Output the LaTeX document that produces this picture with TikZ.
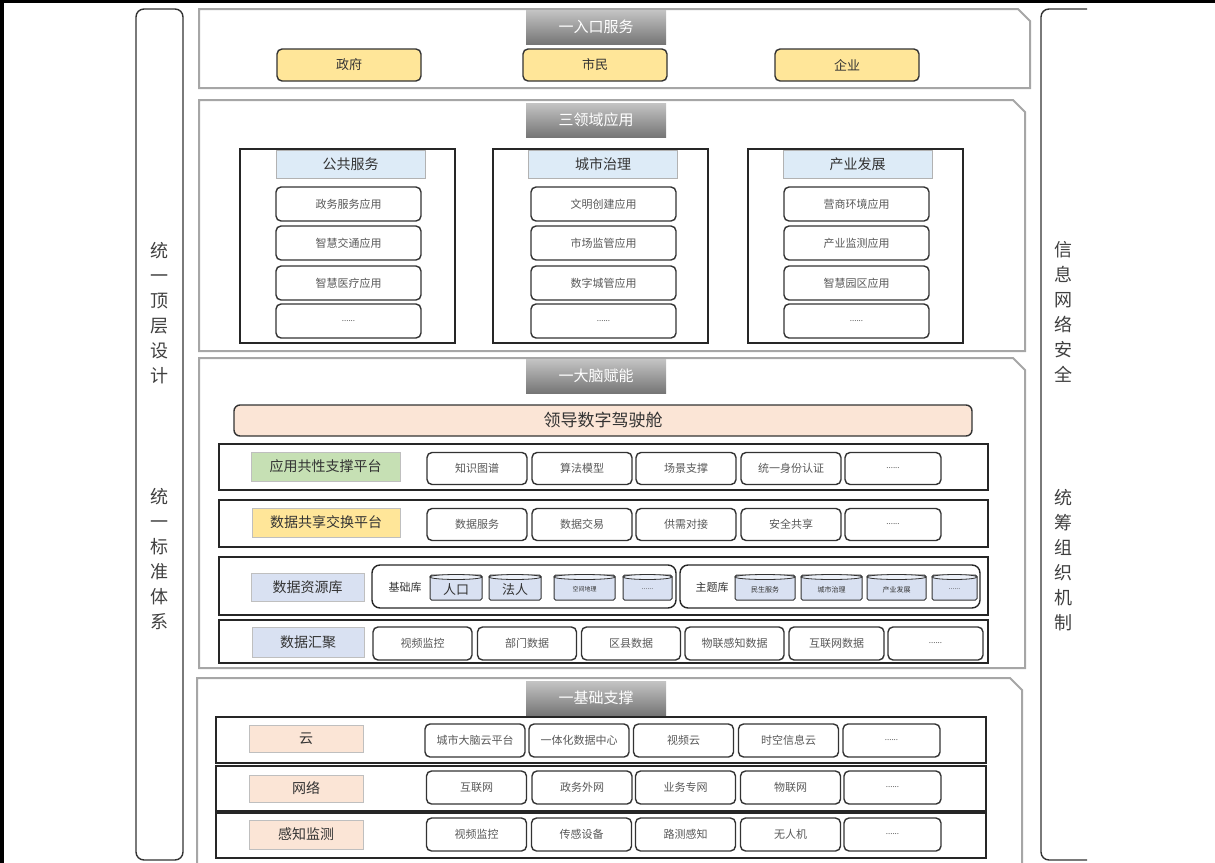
\documentclass[tikz,border=0pt]{standalone}
\usepackage{fontspec}
\setmainfont{Noto Sans CJK SC}

\definecolor{framegray}{HTML}{A6A6A6}
\definecolor{tabtop}{HTML}{C4C4C4}
\definecolor{tabbot}{HTML}{767676}
\definecolor{entryyellow}{HTML}{FFE699}
\definecolor{headblue}{HTML}{DDEBF7}
\definecolor{datablue}{HTML}{D9E1F2}
\definecolor{peach}{HTML}{FBE5D6}
\definecolor{platgreen}{HTML}{C6E0B4}
\definecolor{txtgray}{HTML}{595959}

\tikzset{
  layer/.style={draw=framegray, line width=2pt},
  tabbox/.style={top color=tabtop, bottom color=tabbot, text=white, minimum width=140pt, minimum height=34pt, inner sep=0pt, font=\fontsize{15}{15}\selectfont},
  sidebar/.style={draw=black!80, line width=1.4pt, rounded corners=8pt},
  sidetext/.style={align=center, text=black!75, font=\fontsize{18}{25}\selectfont},
  entry/.style={draw=black!80, fill=entryyellow, line width=1.4pt, rounded corners=5pt, minimum width=144pt, minimum height=32pt, inner sep=0pt, font=\fontsize{13}{13}\selectfont, text=black!80},
  fieldbox/.style={draw=black!85, line width=1.4pt, inner sep=0pt},
  headbox/.style={draw=gray!60, fill=headblue, minimum width=149pt, minimum height=28pt, inner sep=0pt, font=\fontsize{14}{14}\selectfont, text=black!80},
  app/.style={draw=black!80, line width=1.4pt, rounded corners=5pt, fill=white, minimum width=145pt, minimum height=34pt, inner sep=0pt, font=\fontsize{11}{11}\selectfont, text=txtgray},
  rowbox/.style={draw=black!85, line width=1.4pt, inner sep=0pt},
  rowlabel/.style={draw=gray!50, minimum height=29pt, inner sep=0pt, font=\fontsize{14}{14}\selectfont, text=black!80},
  cell/.style={draw=black!80, line width=1.4pt, rounded corners=5pt, fill=white, minimum width=100pt, minimum height=32pt, inner sep=0pt, font=\fontsize{11}{11}\selectfont, text=txtgray},
  etcbox/.style={cell, font=\fontsize{8}{8}\selectfont},
  store/.style={draw=black!85, line width=1.4pt, rounded corners=8pt, inner sep=0pt},
  cylbody/.style={draw=black!80, line width=1pt, fill=datablue, rounded corners=1.5pt, inner sep=0pt, text=black!80},
}

% database cylinder: name, x, y, width, height, text, font size
\newcommand{\dbcyl}[7]{%
  \node[cylbody, minimum width=#4pt, minimum height=#5pt] (#1) at (#2,#3) {};
  \draw[draw=black!80, line width=0.8pt, fill=datablue!50] ([yshift=-2.5pt]#1.north) ellipse [x radius=#4/2, y radius=2.5];
  \node[font=\fontsize{#7}{#7}\selectfont, text=black!80, inner sep=0pt] (#1txt) at ([yshift=-2pt]#1.center) {#6};
}

\begin{document}
\begin{tikzpicture}[x=1pt,y=-1pt]
\useasboundingbox (0,0) rectangle (1215,862);

% frame
\draw[line width=8pt] (0,870) -- (0,0);
\draw[line width=5pt] (0,0) -- (1215,0);

% side bars
\draw[sidebar] (136,9) rectangle (183,860);
\node[sidetext] (design) at (159.5,313) {统\\一\\顶\\层\\设\\计};
\node[sidetext] (standard) at (159.5,559) {统\\一\\标\\准\\体\\系};
\draw[sidebar] (1087,9) -- (1041,9) -- (1041,860) -- (1087,860);
\node[sidetext] (security) at (1063,312) {信\\息\\网\\络\\安\\全};
\node[sidetext] (organize) at (1063,560) {统\\筹\\组\\织\\机\\制};

% entry services
\draw[layer] (199,9) -- (1018,9) -- (1030,21) -- (1030,88) -- (199,88) -- cycle;
\node[tabbox] (tab1) at (596,27) {一入口服务};
\node[entry] (gov) at (349,65) {政府};
\node[entry] (citizen) at (595,65) {市民};
\node[entry] (firm) at (847,65) {企业};

% three domains
\draw[layer] (199,100) -- (1013,100) -- (1025,112) -- (1025,351) -- (199,351) -- cycle;
\node[tabbox] (tab2) at (596,120) {三领域应用};

\node[fieldbox, minimum width=215pt, minimum height=194pt] (pub) at (347.5,246) {};
\node[headbox] (pubhead) at (350.5,164) {公共服务};
\node[app] (pub1) at (348.5,204) {政务服务应用};
\node[app] (pub2) at (348.5,243) {智慧交通应用};
\node[app] (pub3) at (348.5,283) {智慧医疗应用};
\node[app, font=\fontsize{8}{8}\selectfont] (pub4) at (348.5,321) {......};

\node[fieldbox, minimum width=215pt, minimum height=194pt] (city) at (600.5,246) {};
\node[headbox] (cityhead) at (603,164) {城市治理};
\node[app] (city1) at (603.5,204) {文明创建应用};
\node[app] (city2) at (603.5,243) {市场监管应用};
\node[app] (city3) at (603.5,283) {数字城管应用};
\node[app, font=\fontsize{8}{8}\selectfont] (city4) at (603.5,321) {......};

\node[fieldbox, minimum width=215pt, minimum height=194pt] (ind) at (855.5,246) {};
\node[headbox] (indhead) at (857.5,164) {产业发展};
\node[app] (ind1) at (856.5,204) {营商环境应用};
\node[app] (ind2) at (856.5,243) {产业监测应用};
\node[app] (ind3) at (856.5,283) {智慧园区应用};
\node[app, font=\fontsize{8}{8}\selectfont] (ind4) at (856.5,321) {......};

% city brain
\draw[layer] (199,358) -- (1013,358) -- (1025,370) -- (1025,668) -- (199,668) -- cycle;
\node[tabbox] (tab3) at (596,376) {一大脑赋能};
\node[draw=black!80, fill=peach, line width=1.4pt, rounded corners=6pt, minimum width=738pt, minimum height=31pt, inner sep=0pt, font=\fontsize{17}{17}\selectfont, text=black!80] (cockpit) at (603,420.5) {领导数字驾驶舱};

\node[rowbox, minimum width=769pt, minimum height=46pt] (common) at (603.5,467) {};
\node[rowlabel, fill=platgreen, minimum width=149pt] (commonlab) at (325.5,466.5) {应用共性支撑平台};
\node[cell] (c1) at (477,468.5) {知识图谱};
\node[cell] (c2) at (582,468.5) {算法模型};
\node[cell] (c3) at (686,468.5) {场景支撑};
\node[cell] (c4) at (791,468.5) {统一身份认证};
\node[etcbox, minimum width=96pt] (c5) at (893,468.5) {......};

\node[rowbox, minimum width=769pt, minimum height=47pt] (share) at (603.5,523.5) {};
\node[rowlabel, fill=entryyellow, minimum width=148pt] (sharelab) at (326,522.5) {数据共享交换平台};
\node[cell] (s1) at (477,524.5) {数据服务};
\node[cell] (s2) at (582,524.5) {数据交易};
\node[cell] (s3) at (686,524.5) {供需对接};
\node[cell] (s4) at (791,524.5) {安全共享};
\node[etcbox, minimum width=96pt] (s5) at (893,524.5) {......};

\node[rowbox, line width=2pt, minimum width=769pt, minimum height=58pt] (res) at (603.5,586) {};
\node[rowlabel, fill=datablue, minimum width=113pt, minimum height=28pt] (reslab) at (307.5,587) {数据资源库};
\node[store, minimum width=304pt, minimum height=43pt] (base) at (524,586.5) {};
\node[font=\fontsize{11}{11}\selectfont, text=black!80] (basetxt) at (405,587) {基础库};
\dbcyl{b1}{456}{587.5}{52}{25}{人口}{13}
\dbcyl{b2}{515}{587.5}{52}{25}{法人}{13}
\dbcyl{b3}{584.5}{587.5}{61}{25}{空间地理}{6}
\dbcyl{b4}{647.5}{587.5}{49}{25}{......}{7}
\node[store, minimum width=300pt, minimum height=43pt] (theme) at (830,586.5) {};
\node[font=\fontsize{11}{11}\selectfont, text=black!80] (themetxt) at (712,587) {主题库};
\dbcyl{m1}{765}{587.5}{60}{25}{民生服务}{7}
\dbcyl{m2}{831.5}{587.5}{61}{25}{城市治理}{7}
\dbcyl{m3}{896.5}{587.5}{59}{25}{产业发展}{7}
\dbcyl{m4}{954.5}{587.5}{45}{25}{......}{7}

\node[rowbox, minimum width=769pt, minimum height=43pt] (gather) at (603.5,641.5) {};
\node[rowlabel, fill=datablue, minimum width=112pt, minimum height=30pt] (gatherlab) at (308,642) {数据汇聚};
\node[cell, minimum width=99pt, minimum height=33pt] (g1) at (422.5,643.5) {视频监控};
\node[cell, minimum width=99pt, minimum height=33pt] (g2) at (527,643.5) {部门数据};
\node[cell, minimum width=99pt, minimum height=33pt] (g3) at (631,643.5) {区县数据};
\node[cell, minimum width=99pt, minimum height=33pt] (g4) at (734.5,643.5) {物联感知数据};
\node[cell, minimum width=95pt, minimum height=33pt] (g5) at (836.5,643.5) {互联网数据};
\node[etcbox, minimum width=95pt, minimum height=33pt] (g6) at (935.5,643.5) {......};

% base support
\draw[layer] (197,875) -- (197,678) -- (1010,678) -- (1022,690) -- (1022,875);
\node[tabbox] (tab4) at (596,698) {一基础支撑};

\node[rowbox, minimum width=770pt, minimum height=46pt] (cloud) at (601,740) {};
\node[rowlabel, fill=peach, minimum width=114pt, minimum height=27pt] (cloudlab) at (306,738.5) {云};
\node[cell, minimum height=33pt] (y1) at (475,740.5) {城市大脑云平台};
\node[cell, minimum height=33pt] (y2) at (579,740.5) {一体化数据中心};
\node[cell, minimum height=33pt] (y3) at (683.5,740.5) {视频云};
\node[cell, minimum height=33pt] (y4) at (788.5,740.5) {时空信息云};
\node[etcbox, minimum width=97pt, minimum height=33pt] (y5) at (891.5,740.5) {......};

\node[rowbox, minimum width=770pt, minimum height=45pt] (net) at (601,788.5) {};
\node[rowlabel, fill=peach, minimum width=114pt, minimum height=27pt] (netlab) at (306,788.5) {网络};
\node[cell, minimum height=33pt] (n1) at (476.5,787.5) {互联网};
\node[cell, minimum height=33pt] (n2) at (582,787.5) {政务外网};
\node[cell, minimum height=33pt] (n3) at (685.5,787.5) {业务专网};
\node[cell, minimum height=33pt] (n4) at (790.5,787.5) {物联网};
\node[etcbox, minimum width=97pt, minimum height=33pt] (n5) at (892.5,787.5) {......};

\node[rowbox, minimum width=770pt, minimum height=45pt] (sense) at (601,835.5) {};
\node[rowlabel, fill=peach, minimum width=114pt, minimum height=29pt] (senselab) at (306,834.5) {感知监测};
\node[cell, minimum height=33pt] (p1) at (476.5,834.5) {视频监控};
\node[cell, minimum height=33pt] (p2) at (581.5,834.5) {传感设备};
\node[cell, minimum height=33pt] (p3) at (685.5,834.5) {路测感知};
\node[cell, minimum height=33pt] (p4) at (790.5,834.5) {无人机};
\node[etcbox, minimum width=97pt, minimum height=33pt] (p5) at (892.5,834.5) {......};

\end{tikzpicture}
\end{document}
